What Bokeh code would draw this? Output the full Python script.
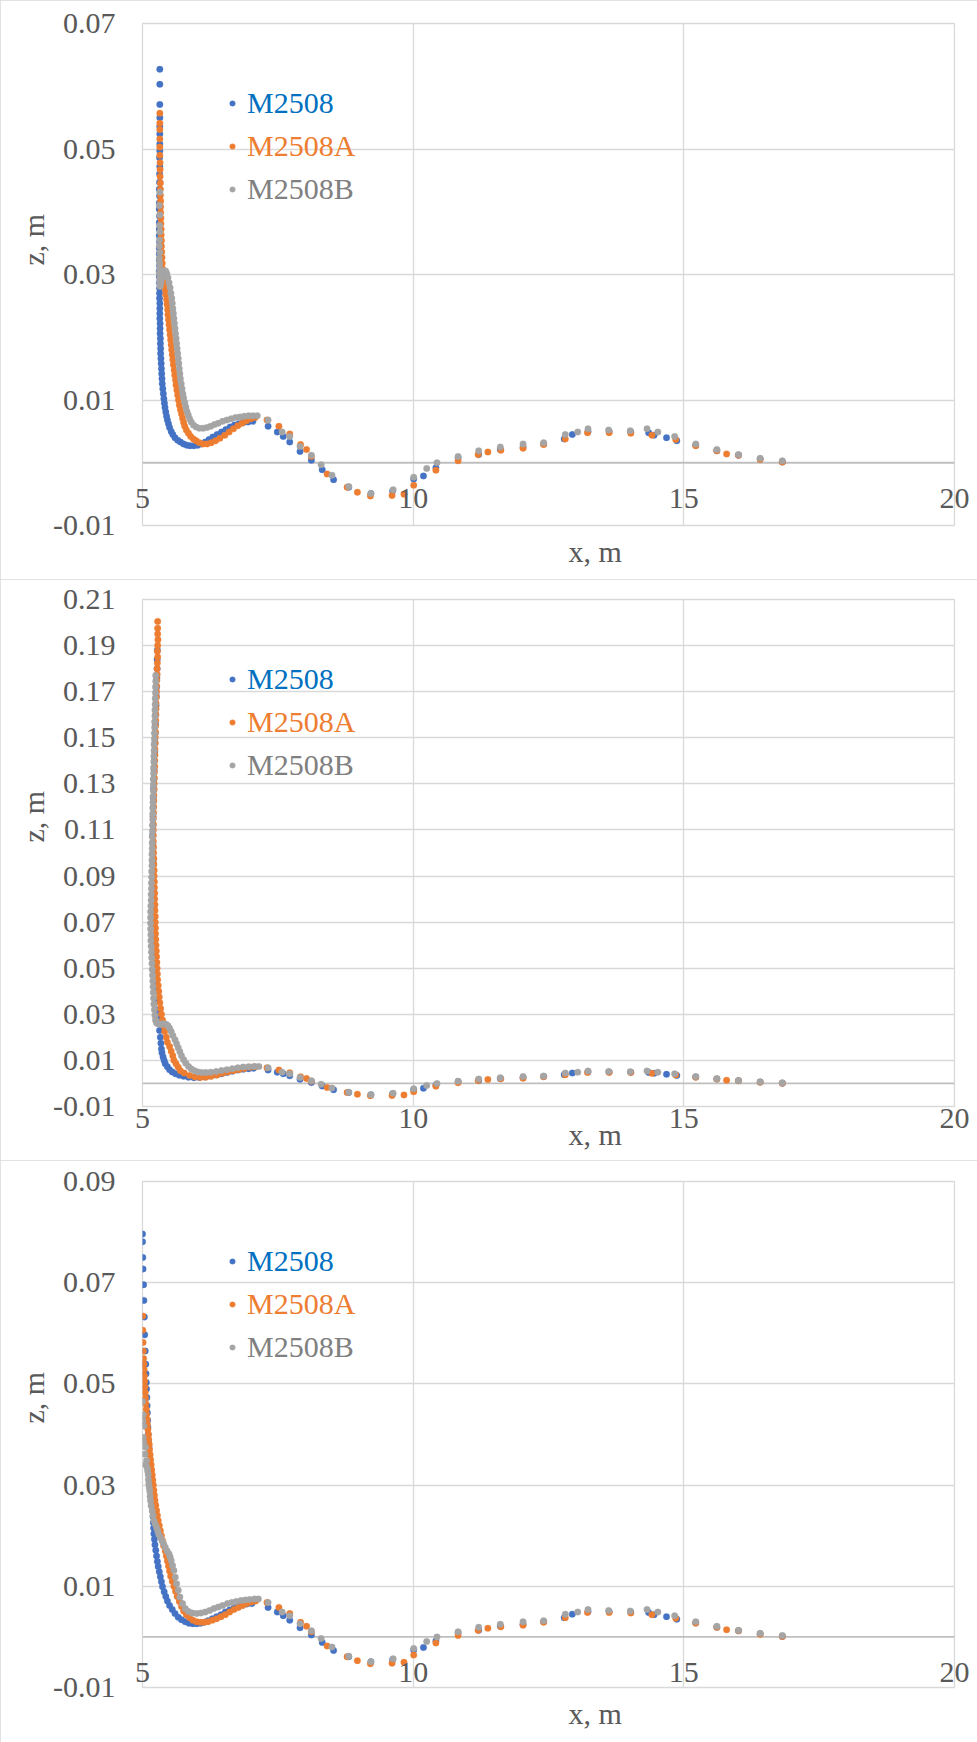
import math
from bokeh.plotting import figure
from bokeh.models import Range1d, FixedTicker, Legend, LegendItem, Span, Title
from bokeh.layouts import column
from bokeh.embed import file_html
from bokeh.resources import INLINE

# ---------------- data ----------------
SERIES = ["M2508", "M2508A", "M2508B"]
MARKER_COLORS = ["#4472C4", "#ED7D31", "#A5A5A5"]
LEGEND_TEXT_COLORS = ["#0070C0", "#ED7D31", "#808080"]

X_TICKS = [5, 10, 15, 20]
X_TICK_LABELS = ["5", "10", "15", "20"]

Y_TICKS_1 = [-0.01, 0.01, 0.03, 0.05, 0.07]
Y_LABELS_1 = ["-0.01", "0.01", "0.03", "0.05", "0.07"]
Y_TICKS_2 = [-0.01, 0.01, 0.03, 0.05, 0.07, 0.09, 0.11, 0.13, 0.15, 0.17, 0.19, 0.21]
Y_LABELS_2 = ["-0.01", "0.01", "0.03", "0.05", "0.07", "0.09", "0.11", "0.13", "0.15", "0.17", "0.19", "0.21"]
Y_TICKS_3 = [-0.01, 0.01, 0.03, 0.05, 0.07, 0.09]
Y_LABELS_3 = ["-0.01", "0.01", "0.03", "0.05", "0.07", "0.09"]

X_TITLE = "x, m"
Z_TITLE = "z, m"

# common downstream part (x > 7.2 m)
TAIL_M2508 = [(7.32, 0.0058), (7.49, 0.0049), (7.60, 0.0042), (7.72, 0.0033), (7.91, 0.0018),
              (8.12, 0.0004), (8.32, -0.0011), (8.53, -0.0027), (8.81, -0.0039), (9.22, -0.0049),
              (9.62, -0.0045), (10.01, -0.0026), (10.19, -0.0021), (10.42, -0.0008), (10.83, 0.0008),
              (11.21, 0.0013), (11.61, 0.0021), (12.03, 0.0025), (12.41, 0.0030), (12.79, 0.0038),
              (12.94, 0.0045), (13.23, 0.0050), (13.62, 0.0050), (14.02, 0.0049), (14.35, 0.0048),
              (14.45, 0.0044), (14.68, 0.0040), (14.87, 0.0035), (15.22, 0.0028), (15.61, 0.0019),
              (16.01, 0.0012), (16.41, 0.0006), (16.82, 0.0001)]
TAIL_M2508A = [(7.30, 0.0068), (7.52, 0.0058), (7.72, 0.0046), (7.92, 0.0029), (8.03, 0.0021),
               (8.12, 0.0010), (8.41, -0.0018), (8.78, -0.0039), (8.97, -0.0047), (9.21, -0.0053),
               (9.61, -0.0052), (9.83, -0.0050), (10.01, -0.0036), (10.42, -0.0012), (10.83, 0.0003),
               (11.20, 0.0013), (11.38, 0.0017), (11.62, 0.0020), (12.03, 0.0023), (12.41, 0.0029),
               (12.81, 0.0038), (13.22, 0.0048), (13.62, 0.0048), (14.02, 0.0047), (14.41, 0.0044),
               (14.85, 0.0037), (15.22, 0.0027), (15.61, 0.0019), (15.79, 0.0014), (16.01, 0.0012),
               (16.41, 0.0005), (16.82, 0.0001)]
TAIL_M2508B = [(7.32, 0.0068), (7.58, 0.0049), (7.72, 0.0042), (7.91, 0.0026), (8.12, 0.0012),
               (8.30, -0.0003), (8.50, -0.0020), (8.81, -0.0038), (9.22, -0.0049), (9.63, -0.0043),
               (10.01, -0.0023), (10.25, -0.0009), (10.44, 0.0000), (10.83, 0.0010), (11.21, 0.0019),
               (11.61, 0.0025), (12.03, 0.0030), (12.41, 0.0032), (12.81, 0.0045), (13.04, 0.0049),
               (13.23, 0.0054), (13.61, 0.0052), (14.01, 0.0051), (14.32, 0.0054), (14.52, 0.0049),
               (14.83, 0.0042), (15.22, 0.0030), (15.61, 0.0021), (16.01, 0.0013), (16.41, 0.0007),
               (16.82, 0.0003)]

# ---- panel 1: near-field part (x < 7.2 m)
P1_M2508 = [(5.32, 0.0627), (5.32, 0.0603), (5.32, 0.0571), (5.32, 0.0550), (5.32, 0.0536), (5.32, 0.0524),
            (5.32, 0.0508), (5.32, 0.0497), (5.315, 0.0486), (5.32, 0.0472), (5.315, 0.0460), (5.315, 0.0447),
            (5.31, 0.0436), (5.315, 0.0425), (5.31, 0.0414), (5.31, 0.0404), (5.315, 0.0393), (5.31, 0.0383),
            (5.31, 0.0372), (5.31, 0.0362), (5.315, 0.0352), (5.31, 0.0342), (5.31, 0.0333), (5.31, 0.0323),
            (5.315, 0.0314), (5.31, 0.0305), (5.31, 0.0296), (5.31, 0.0287), (5.315, 0.0278), (5.315, 0.0270),
            (5.315, 0.0262), (5.32, 0.0254), (5.32, 0.0246), (5.32, 0.0238), (5.32, 0.0230), (5.325, 0.0222),
            (5.325, 0.0214), (5.325, 0.0206), (5.33, 0.0198), (5.33, 0.0190), (5.335, 0.0182), (5.335, 0.0174),
            (5.34, 0.0166), (5.345, 0.0158), (5.35, 0.0150), (5.355, 0.0142), (5.36, 0.0134), (5.365, 0.0126),
            (5.375, 0.0118), (5.385, 0.0110), (5.395, 0.0102), (5.405, 0.0095), (5.415, 0.0088), (5.43, 0.0081),
            (5.445, 0.0074), (5.46, 0.0068), (5.48, 0.0062), (5.50, 0.0056), (5.53, 0.0050), (5.56, 0.0045),
            (5.60, 0.0040), (5.65, 0.0036), (5.70, 0.0033), (5.76, 0.0030), (5.82, 0.0028), (5.88, 0.0027),
            (5.95, 0.0027), (6.02, 0.0028), (6.09, 0.0030), (6.16, 0.0033), (6.23, 0.0037), (6.30, 0.0041),
            (6.38, 0.0045), (6.46, 0.0049), (6.54, 0.0053), (6.62, 0.0057), (6.70, 0.0060), (6.78, 0.0062),
            (6.86, 0.0064), (6.95, 0.0065), (7.04, 0.0066)]
P1_M2508A = [(5.32, 0.0557), (5.32, 0.0541), (5.32, 0.0531), (5.32, 0.0516), (5.32, 0.0503), (5.32, 0.0490),
             (5.325, 0.0478), (5.325, 0.0467), (5.325, 0.0456), (5.33, 0.0446), (5.33, 0.0436), (5.33, 0.0426),
             (5.335, 0.0417), (5.335, 0.0408), (5.335, 0.0399), (5.34, 0.0390), (5.34, 0.0381), (5.345, 0.0372),
             (5.345, 0.0363), (5.35, 0.0354), (5.35, 0.0345), (5.355, 0.0336), (5.36, 0.0327), (5.365, 0.0318),
             (5.37, 0.0309), (5.38, 0.0300), (5.39, 0.0292), (5.40, 0.0284), (5.42, 0.0276), (5.43, 0.0268),
             (5.445, 0.0260), (5.455, 0.0252), (5.465, 0.0244), (5.47, 0.0236), (5.48, 0.0228), (5.49, 0.0220),
             (5.50, 0.0212), (5.51, 0.0204), (5.52, 0.0196), (5.53, 0.0188), (5.54, 0.0180), (5.55, 0.0172),
             (5.56, 0.0164), (5.57, 0.0156), (5.585, 0.0148), (5.595, 0.0140), (5.61, 0.0132), (5.62, 0.0124),
             (5.635, 0.0116), (5.65, 0.0108), (5.665, 0.0100), (5.68, 0.0092), (5.70, 0.0085), (5.72, 0.0078),
             (5.74, 0.0071), (5.76, 0.0064), (5.78, 0.0058), (5.81, 0.0052), (5.85, 0.0047), (5.89, 0.0042),
             (5.94, 0.0038), (5.99, 0.0035), (6.05, 0.0032), (6.12, 0.0030), (6.19, 0.0030), (6.27, 0.0032),
             (6.35, 0.0035), (6.43, 0.0039), (6.52, 0.0044), (6.60, 0.0049), (6.68, 0.0054), (6.76, 0.0059),
             (6.84, 0.0063), (6.92, 0.0067), (7.00, 0.0070), (7.08, 0.0072)]
P1_M2508B = [(5.32, 0.0431), (5.31, 0.0410), (5.32, 0.0395), (5.315, 0.0378), (5.32, 0.0368), (5.315, 0.0355),
             (5.31, 0.0345), (5.32, 0.0335), (5.31, 0.0326), (5.315, 0.0318), (5.32, 0.0310), (5.31, 0.0302),
             (5.32, 0.0294), (5.315, 0.0287), (5.325, 0.0281), (5.335, 0.0284), (5.345, 0.0290), (5.36, 0.0296),
             (5.375, 0.0301), (5.39, 0.0304), (5.41, 0.0306), (5.43, 0.0305), (5.45, 0.0301), (5.47, 0.0295),
             (5.49, 0.0287), (5.51, 0.0279), (5.525, 0.0270), (5.54, 0.0262), (5.55, 0.0254), (5.56, 0.0246),
             (5.57, 0.0238), (5.58, 0.0230), (5.59, 0.0222), (5.60, 0.0214), (5.61, 0.0206), (5.62, 0.0198),
             (5.63, 0.0190), (5.64, 0.0182), (5.65, 0.0174), (5.66, 0.0166), (5.67, 0.0158), (5.68, 0.0150),
             (5.69, 0.0142), (5.70, 0.0134), (5.715, 0.0126), (5.73, 0.0118), (5.745, 0.0110), (5.76, 0.0103),
             (5.78, 0.0096), (5.80, 0.0089), (5.82, 0.0082), (5.845, 0.0076), (5.87, 0.0070), (5.90, 0.0065),
             (5.94, 0.0060), (5.99, 0.0057), (6.05, 0.0055), (6.12, 0.0055), (6.19, 0.0056), (6.26, 0.0058),
             (6.33, 0.0061), (6.40, 0.0063), (6.48, 0.0066), (6.56, 0.0068), (6.64, 0.0070), (6.72, 0.0072),
             (6.80, 0.0073), (6.88, 0.0074), (6.96, 0.0075), (7.04, 0.0075), (7.12, 0.0075)]

# ---- panel 2: near-field part
P2_M2508 = [(5.275, 0.1880), (5.27, 0.1840), (5.27, 0.1800), (5.265, 0.1760), (5.26, 0.1720), (5.255, 0.1680),
            (5.25, 0.1640), (5.245, 0.1600), (5.24, 0.1560), (5.235, 0.1520), (5.23, 0.1480), (5.225, 0.1440),
            (5.22, 0.1400), (5.215, 0.1360), (5.21, 0.1320), (5.205, 0.1280), (5.20, 0.1240), (5.20, 0.1200),
            (5.195, 0.1160), (5.195, 0.1120), (5.19, 0.1080), (5.19, 0.1040), (5.19, 0.1000), (5.195, 0.0960),
            (5.195, 0.0920), (5.20, 0.0880), (5.20, 0.0840), (5.205, 0.0800), (5.21, 0.0760), (5.21, 0.0720),
            (5.215, 0.0680), (5.22, 0.0640), (5.225, 0.0600), (5.23, 0.0560), (5.235, 0.0520), (5.24, 0.0480),
            (5.245, 0.0440), (5.25, 0.0400), (5.26, 0.0360), (5.27, 0.0320), (5.285, 0.0290), (5.30, 0.0260),
            (5.315, 0.0230), (5.33, 0.0200), (5.34, 0.0175), (5.35, 0.0150), (5.36, 0.0133), (5.38, 0.0115),
            (5.40, 0.0100), (5.42, 0.0086), (5.46, 0.0072), (5.50, 0.0060), (5.55, 0.0050), (5.61, 0.0042),
            (5.68, 0.0036), (5.76, 0.0031), (5.85, 0.0027), (5.95, 0.0025), (6.05, 0.0026), (6.15, 0.0028),
            (6.25, 0.0032), (6.36, 0.0037), (6.46, 0.0042), (6.56, 0.0048), (6.66, 0.0053), (6.76, 0.0058),
            (6.86, 0.0062), (6.96, 0.0064), (7.05, 0.0066)]
P2_M2508A = [(5.28, 0.2005), (5.28, 0.1975), (5.28, 0.1950), (5.285, 0.1925), (5.28, 0.1900), (5.275, 0.1875),
             (5.28, 0.1850), (5.275, 0.1825), (5.27, 0.1800), (5.27, 0.1775), (5.265, 0.1750), (5.26, 0.1725),
             (5.26, 0.1700), (5.255, 0.1675), (5.25, 0.1650), (5.25, 0.1625), (5.245, 0.1600), (5.245, 0.1575),
             (5.24, 0.1550), (5.24, 0.1525), (5.235, 0.1500), (5.235, 0.1475), (5.23, 0.1450), (5.23, 0.1425),
             (5.225, 0.1400), (5.225, 0.1375), (5.22, 0.1350), (5.22, 0.1325), (5.215, 0.1300), (5.215, 0.1275),
             (5.21, 0.1250), (5.21, 0.1225), (5.205, 0.1200), (5.205, 0.1175), (5.20, 0.1150), (5.20, 0.1125),
             (5.20, 0.1100), (5.20, 0.1075), (5.20, 0.1050), (5.205, 0.1025), (5.205, 0.1000), (5.21, 0.0975),
             (5.21, 0.0950), (5.215, 0.0925), (5.215, 0.0900), (5.22, 0.0875), (5.22, 0.0850), (5.225, 0.0825),
             (5.225, 0.0800), (5.23, 0.0775), (5.23, 0.0750), (5.235, 0.0725), (5.235, 0.0700), (5.24, 0.0675),
             (5.24, 0.0650), (5.245, 0.0625), (5.25, 0.0600), (5.255, 0.0575), (5.26, 0.0550), (5.265, 0.0525),
             (5.27, 0.0500), (5.275, 0.0475), (5.28, 0.0450), (5.29, 0.0425), (5.30, 0.0400), (5.31, 0.0375),
             (5.32, 0.0350), (5.335, 0.0325), (5.35, 0.0300), (5.37, 0.0275), (5.39, 0.0250), (5.41, 0.0225),
             (5.44, 0.0200), (5.46, 0.0179), (5.50, 0.0160), (5.53, 0.0140), (5.56, 0.0120), (5.58, 0.0101),
             (5.62, 0.0085), (5.66, 0.0070), (5.70, 0.0055), (5.77, 0.0045), (5.87, 0.0035), (5.97, 0.0028),
             (6.07, 0.0026), (6.17, 0.0027), (6.27, 0.0031), (6.38, 0.0037), (6.48, 0.0044), (6.58, 0.0050),
             (6.68, 0.0055), (6.78, 0.0060), (6.88, 0.0065), (6.99, 0.0070), (7.08, 0.0072)]
P2_M2508B = [(5.245, 0.1770), (5.245, 0.1745), (5.24, 0.1720), (5.24, 0.1695), (5.235, 0.1670), (5.235, 0.1645),
             (5.23, 0.1620), (5.23, 0.1595), (5.225, 0.1570), (5.225, 0.1545), (5.22, 0.1520), (5.22, 0.1495),
             (5.215, 0.1470), (5.215, 0.1445), (5.21, 0.1420), (5.21, 0.1395), (5.205, 0.1370), (5.205, 0.1345),
             (5.20, 0.1320), (5.20, 0.1295), (5.20, 0.1270), (5.195, 0.1245), (5.195, 0.1220), (5.19, 0.1195),
             (5.19, 0.1170), (5.19, 0.1145), (5.185, 0.1120), (5.185, 0.1095), (5.18, 0.1070), (5.18, 0.1045),
             (5.18, 0.1020), (5.175, 0.0995), (5.175, 0.0970), (5.175, 0.0945), (5.17, 0.0920), (5.17, 0.0895),
             (5.165, 0.0870), (5.165, 0.0845), (5.16, 0.0820), (5.16, 0.0795), (5.155, 0.0770), (5.15, 0.0745),
             (5.15, 0.0720), (5.15, 0.0695), (5.15, 0.0670), (5.155, 0.0645), (5.155, 0.0620), (5.16, 0.0595),
             (5.165, 0.0570), (5.17, 0.0545), (5.175, 0.0520), (5.18, 0.0495), (5.185, 0.0470), (5.19, 0.0445),
             (5.195, 0.0420), (5.20, 0.0395), (5.205, 0.0370), (5.21, 0.0345), (5.22, 0.0320), (5.23, 0.0295),
             (5.24, 0.0275), (5.26, 0.0262), (5.29, 0.0258), (5.32, 0.0258), (5.35, 0.0258), (5.38, 0.0258),
             (5.41, 0.0258), (5.44, 0.0256), (5.47, 0.0250), (5.50, 0.0240), (5.53, 0.0225), (5.56, 0.0208),
             (5.60, 0.0190), (5.63, 0.0172), (5.66, 0.0155), (5.69, 0.0138), (5.72, 0.0120), (5.76, 0.0103),
             (5.80, 0.0088), (5.85, 0.0074), (5.90, 0.0063), (5.96, 0.0055), (6.02, 0.0050), (6.09, 0.0048),
             (6.17, 0.0048), (6.26, 0.0049), (6.36, 0.0052), (6.46, 0.0056), (6.56, 0.0060), (6.66, 0.0064),
             (6.76, 0.0068), (6.86, 0.0071), (6.96, 0.0073), (7.06, 0.0074), (7.15, 0.0074)]

# ---- panel 3: near-field part
P3_M2508 = [(5.0, 0.0796), (5.0, 0.0781), (5.005, 0.0750), (5.01, 0.0727), (5.02, 0.0696), (5.025, 0.0665),
            (5.035, 0.0632), (5.04, 0.0597), (5.05, 0.0565), (5.06, 0.0539), (5.065, 0.0520), (5.07, 0.0503),
            (5.075, 0.0490), (5.08, 0.0473), (5.085, 0.0457), (5.09, 0.0443), (5.095, 0.0428), (5.10, 0.0414),
            (5.105, 0.0400), (5.11, 0.0387), (5.12, 0.0374), (5.125, 0.0361), (5.13, 0.0348), (5.14, 0.0335),
            (5.145, 0.0322), (5.15, 0.0310), (5.16, 0.0298), (5.165, 0.0286), (5.17, 0.0274), (5.18, 0.0262),
            (5.19, 0.0250), (5.195, 0.0238), (5.20, 0.0226), (5.205, 0.0215), (5.21, 0.0204), (5.22, 0.0193),
            (5.23, 0.0182), (5.245, 0.0171), (5.26, 0.0160), (5.275, 0.0149), (5.29, 0.0139), (5.31, 0.0129),
            (5.33, 0.0119), (5.35, 0.0109), (5.37, 0.0099), (5.40, 0.0089), (5.43, 0.0080), (5.46, 0.0071),
            (5.50, 0.0062), (5.55, 0.0054), (5.60, 0.0046), (5.66, 0.0039), (5.72, 0.0034), (5.79, 0.0030),
            (5.86, 0.0027), (5.93, 0.0026), (6.00, 0.0026), (6.07, 0.0027), (6.14, 0.0029), (6.21, 0.0032),
            (6.29, 0.0036), (6.37, 0.0040), (6.45, 0.0044), (6.53, 0.0049), (6.61, 0.0053), (6.69, 0.0057),
            (6.77, 0.0060), (6.85, 0.0063), (6.93, 0.0065), (7.02, 0.0066)]
P3_M2508A = [(5.005, 0.0634), (5.005, 0.0606), (5.01, 0.0582), (5.015, 0.0565), (5.02, 0.0550), (5.025, 0.0539),
             (5.03, 0.0528), (5.035, 0.0516), (5.04, 0.0505), (5.045, 0.0494), (5.05, 0.0483), (5.055, 0.0472),
             (5.06, 0.0461), (5.07, 0.0450), (5.075, 0.0440), (5.085, 0.0430), (5.09, 0.0420), (5.10, 0.0410),
             (5.11, 0.0400), (5.115, 0.0390), (5.125, 0.0380), (5.13, 0.0370), (5.14, 0.0360), (5.15, 0.0350),
             (5.16, 0.0340), (5.17, 0.0330), (5.18, 0.0320), (5.19, 0.0310), (5.20, 0.0300), (5.21, 0.0290),
             (5.22, 0.0280), (5.23, 0.0270), (5.245, 0.0260), (5.26, 0.0250), (5.275, 0.0240), (5.29, 0.0230),
             (5.31, 0.0220), (5.33, 0.0210), (5.35, 0.0200), (5.37, 0.0190), (5.39, 0.0180), (5.42, 0.0170),
             (5.44, 0.0160), (5.46, 0.0150), (5.48, 0.0140), (5.50, 0.0130), (5.52, 0.0120), (5.55, 0.0110),
             (5.58, 0.0100), (5.61, 0.0090), (5.64, 0.0080), (5.68, 0.0070), (5.72, 0.0060), (5.76, 0.0051),
             (5.81, 0.0044), (5.87, 0.0038), (5.93, 0.0033), (6.00, 0.0030), (6.07, 0.0029), (6.14, 0.0029),
             (6.21, 0.0030), (6.29, 0.0033), (6.37, 0.0036), (6.45, 0.0040), (6.53, 0.0044), (6.61, 0.0049),
             (6.69, 0.0054), (6.77, 0.0058), (6.85, 0.0062), (6.93, 0.0066), (7.01, 0.0069), (7.09, 0.0071)]
P3_M2508B = [(5.0, 0.0465), (5.013, 0.0439), (5.006, 0.0427), (5.025, 0.0417), (5.013, 0.0394), (5.02, 0.0385),
             (5.055, 0.0375), (5.043, 0.0361), (5.074, 0.0348), (5.06, 0.0340), (5.086, 0.0335), (5.095, 0.0328),
             (5.105, 0.0321), (5.11, 0.0311), (5.117, 0.0302), (5.125, 0.0295), (5.135, 0.0288), (5.14, 0.0278),
             (5.148, 0.0269), (5.16, 0.0259), (5.18, 0.0249), (5.195, 0.0240), (5.21, 0.0230), (5.235, 0.0223),
             (5.26, 0.0216), (5.28, 0.0210), (5.30, 0.0203), (5.33, 0.0197), (5.36, 0.0190), (5.39, 0.0184),
             (5.42, 0.0177), (5.455, 0.0170), (5.49, 0.0164), (5.51, 0.0158), (5.53, 0.0151), (5.555, 0.0141),
             (5.58, 0.0131), (5.605, 0.0118), (5.63, 0.0105), (5.66, 0.0092), (5.69, 0.0079), (5.74, 0.0066),
             (5.79, 0.0056), (5.85, 0.0050), (5.92, 0.0047), (6.00, 0.0046), (6.08, 0.0047), (6.16, 0.0049),
             (6.24, 0.0052), (6.32, 0.0056), (6.40, 0.0059), (6.48, 0.0062), (6.57, 0.0066), (6.65, 0.0068),
             (6.73, 0.0070), (6.82, 0.0072), (6.90, 0.0073), (6.98, 0.0074), (7.07, 0.0075), (7.14, 0.0075)]

PANELS = [
    dict(heads=[P1_M2508, P1_M2508A, P1_M2508B], yr=(-0.01, 0.07), ticks=Y_TICKS_1, labels=Y_LABELS_1,
         fh=502, top=23, bottom=54, ztitle_off=260),
    dict(heads=[P2_M2508, P2_M2508A, P2_M2508B], yr=(-0.01, 0.21), ticks=Y_TICKS_2, labels=Y_LABELS_2,
         fh=507, top=20, bottom=54, ztitle_off=264),
    dict(heads=[P3_M2508, P3_M2508A, P3_M2508B], yr=(-0.01, 0.09), ticks=Y_TICKS_3, labels=Y_LABELS_3,
         fh=506, top=21, bottom=55, ztitle_off=264),
]
TAILS = [TAIL_M2508, TAIL_M2508A, TAIL_M2508B]

FONT = "Liberation Serif"
FONT_SIZE = "30px"
TEXT_GREY = "#595959"
GRID = "#d9d9d9"
TICK_LABEL_EXTENT = 19.5   # approx. extent Bokeh reserves for the x tick labels


def make_panel(cfg):
    fh = cfg["fh"]
    ymin, ymax = cfg["yr"]
    p = figure(frame_width=812, frame_height=fh,
               x_range=Range1d(5, 20), y_range=Range1d(ymin, ymax),
               output_backend="svg", toolbar_location=None,
               min_border_left=142, min_border_right=23,
               min_border_top=cfg["top"], min_border_bottom=cfg["bottom"],
               background_fill_color="white", border_fill_color="white",
               styles={"outline": "2px solid #d9d9d9", "outline-offset": "-2px"})
    p.outline_line_color = GRID
    p.outline_line_width = 1.3

    # grids
    p.xgrid.ticker = FixedTicker(ticks=X_TICKS)
    p.ygrid.ticker = FixedTicker(ticks=cfg["ticks"])
    for g in (p.xgrid, p.ygrid):
        g.grid_line_color = GRID
        g.grid_line_width = 1.3
        g.minor_grid_line_color = None

    # y axis
    ya = p.yaxis[0]
    ya.ticker = FixedTicker(ticks=cfg["ticks"])
    ya.major_label_overrides = {t: l for t, l in zip(cfg["ticks"], cfg["labels"])}
    ya.axis_line_color = None
    ya.major_tick_line_color = None
    ya.minor_tick_line_color = None
    ya.major_tick_out = 0
    ya.major_tick_in = 0
    ya.major_label_standoff = 27
    ya.major_label_text_font = FONT
    ya.major_label_text_font_size = FONT_SIZE
    ya.major_label_text_color = TEXT_GREY

    # horizontal axis line crosses at z = 0; its labels hang just below that line
    p.add_layout(Span(location=0, dimension="width", line_color="#bfbfbf", line_width=1.8, level="underlay"))
    zero_from_bottom = fh * (0 - ymin) / (ymax - ymin)
    label_standoff = -zero_from_bottom + 25.5
    xa = p.xaxis[0]
    xa.ticker = FixedTicker(ticks=X_TICKS)
    xa.major_label_overrides = {t: l for t, l in zip(X_TICKS, X_TICK_LABELS)}
    xa.axis_line_color = None
    xa.major_tick_line_color = None
    xa.minor_tick_line_color = None
    xa.major_tick_out = 0
    xa.major_tick_in = 0
    xa.major_label_standoff = int(round(label_standoff))
    xa.major_label_text_font = FONT
    xa.major_label_text_font_size = FONT_SIZE
    xa.major_label_text_color = TEXT_GREY

    # axis titles
    axis_size = max(0.0, label_standoff + TICK_LABEL_EXTENT)
    x_title_standoff = 2 * (9.2 - axis_size)
    p.add_layout(Title(text=X_TITLE, align="left", offset=426, vertical_align="top",
                       standoff=x_title_standoff, text_font=FONT, text_font_size=FONT_SIZE,
                       text_font_style="normal", text_color=TEXT_GREY), "below")
    p.add_layout(Title(text=Z_TITLE, align="left", offset=cfg["ztitle_off"], vertical_align="middle",
                       standoff=0, text_font=FONT, text_font_size=FONT_SIZE,
                       text_font_style="normal", text_color=TEXT_GREY), "left")

    # series
    renderers = []
    for name, head, tail, col in zip(SERIES, cfg["heads"], TAILS, MARKER_COLORS):
        pts = head + tail
        xs = [a for a, b in pts]
        zs = [b for a, b in pts]
        r = p.scatter(xs, zs, size=6.5, fill_color=col, line_color=col, line_width=0.3)
        renderers.append(r)

    # legend: one entry per series so each label keeps its own colour
    for i, (name, r, tc) in enumerate(zip(SERIES, renderers, LEGEND_TEXT_COLORS)):
        top_off = 80 + 43 * i
        leg = Legend(items=[LegendItem(label=name, renderers=[r])],
                     location=(83, fh - top_off - 20),
                     border_line_color=None, background_fill_alpha=0,
                     padding=0, margin=0, spacing=0,
                     glyph_width=14, glyph_height=40, label_height=40, label_standoff=8,
                     label_text_font=FONT, label_text_font_size=FONT_SIZE, label_text_color=tc)
        p.add_layout(leg)
    return p


figs = [make_panel(c) for c in PANELS]
layout = column(*figs, spacing=0)
open("out.html", "w").write(file_html(layout, INLINE))
